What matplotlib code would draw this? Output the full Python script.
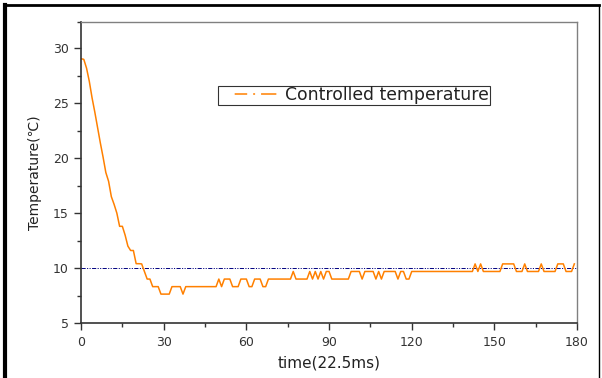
import numpy as np
import matplotlib
matplotlib.use('Agg')
import matplotlib.pyplot as plt
from matplotlib.lines import Line2D

plt.rcParams['font.family'] = ['DejaVu Sans']
plt.rcParams['lines.scale_dashes'] = False

# quantized sensor levels
L0, L1, L2, L3, L4 = 7.63, 8.31, 9.0, 9.69, 10.38

# cool-down part (t = 0..23)
descida = [29.06, 29.0, 28.2, 27.0, 25.5, 24.2, 22.8, 21.4, 20.1, 18.7,
           17.9, 16.5, 15.8, 15.0, 13.8, 13.8, 13.0, 12.0, 11.6, 11.6,
           10.4, 10.4, 10.38, 9.69]

# regulated part (t = 24..180)
regulado = ([L2, L2] + [L1] * 3 + [L0] * 4 + [L1] * 4 + [L0] + [L1] * 12 +
            [L2, L1, L2, L2, L2, L1, L1, L1, L2, L2, L2, L1, L1, L2, L2, L2, L1, L1] +
            [L2] * 9 + [L3] + [L2] * 5 +
            [L3, L2, L3, L2, L3, L2, L3, L3] + [L2] * 7 +
            [L3] * 4 + [L2] + [L3] * 4 + [L2, L3, L2] + [L3] * 5 + [L2, L3, L3, L2, L2] +
            [L3] * 23 + [L4, L3, L4, L3] + [L3] * 6 + [L4] * 5 + [L3] * 3 +
            [L4] + [L3] * 5 + [L4] + [L3] * 5 + [L4] * 3 + [L3] * 3 + [L4])

temperatura = np.array(descida + regulado)
tempo = np.arange(len(temperatura))
setpoint = 10

xticks = [0, 30, 60, 90, 120, 150, 180]
yticks = [5, 10, 15, 20, 25, 30]

fig = plt.figure(figsize=(6.02, 3.78), dpi=100)
ax = fig.add_axes([0.1346, 0.1455, 0.824, 0.7963])

ax.axhline(setpoint, color='#000080', lw=0.7, ls=(0, (3, 1, 0.8, 1, 0.8, 1)))
ax.plot(tempo, temperatura, color='#FF8000', lw=1.1)

ax.set_xlim(0, 180)
ax.set_ylim(5, 32.4)
ax.set_xticks(xticks)
ax.set_yticks(yticks)
ax.set_xticks([15, 45, 75, 105, 135, 165], minor=True)
ax.set_yticks([7.5, 12.5, 17.5, 22.5, 27.5, 32.4], minor=True)
ax.tick_params(which='major', direction='out', length=5, width=1, color='#333333',
               labelsize=9, labelcolor='#333333', pad=4)
ax.tick_params(which='minor', direction='out', length=3, width=1, color='#333333')

for s in ['left', 'bottom']:
    ax.spines[s].set_color('#333333')
    ax.spines[s].set_linewidth(1.2)
for s in ['top', 'right']:
    ax.spines[s].set_color('#808080')
    ax.spines[s].set_linewidth(1.0)

ax.set_xlabel('time(22.5ms)', fontsize=11, color='#222222', labelpad=5)
ax.set_ylabel('Temperature(℃)', fontsize=10, color='#222222', labelpad=8)

# legend handle: leading gap then "— · —"
proxy = Line2D([0], [0], color='#FF8000', lw=1.1,
               ls=(0, (0.01, 12, 9, 4.3, 1.4, 4.3, 11, 20)))
leg = ax.legend([proxy], ['Controlled temperature'], loc='upper left',
                bbox_to_anchor=(0.276, 0.787), fontsize=12.4, frameon=True,
                fancybox=False, handlelength=3.6, borderpad=0.02,
                borderaxespad=0, handletextpad=0.3)
leg.get_frame().set_edgecolor('black')
leg.get_frame().set_linewidth(0.8)
for t in leg.get_texts():
    t.set_color('#222222')

# outer frame
fig.add_artist(Line2D([0.008, 0.008], [0, 0.987], color='black', lw=3, transform=fig.transFigure))
fig.add_artist(Line2D([0.008, 0.995], [0.987, 0.987], color='black', lw=2, transform=fig.transFigure))
fig.add_artist(Line2D([0.995, 0.995], [0, 0.987], color='black', lw=1, transform=fig.transFigure))

fig.savefig('out.png', dpi=100)
